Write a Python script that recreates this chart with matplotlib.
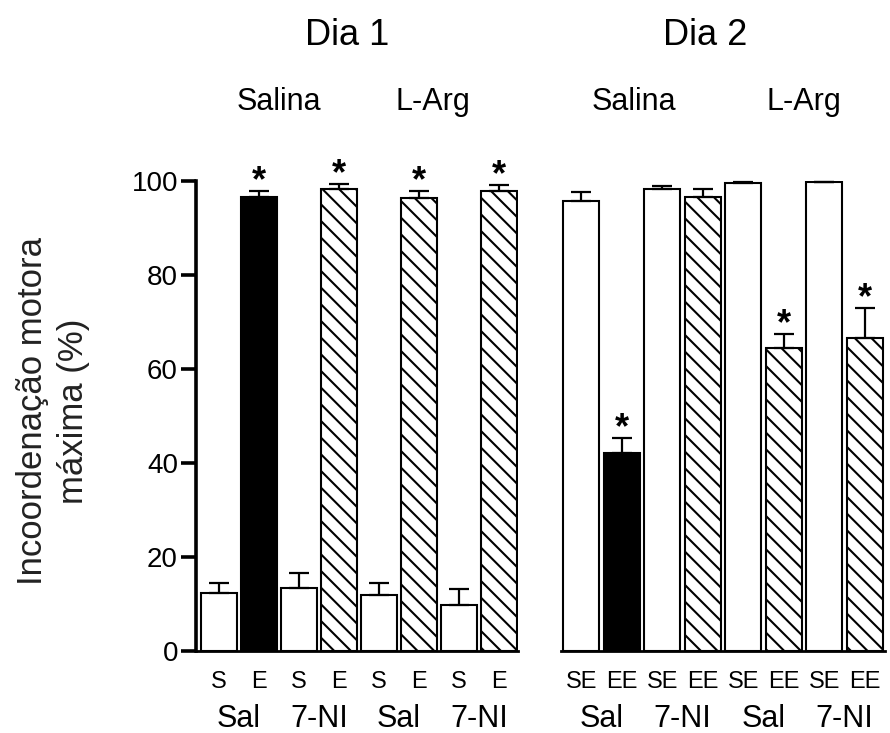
import matplotlib
matplotlib.use("Agg")
import matplotlib.pyplot as plt
import matplotlib.transforms as mtransforms
import numpy as np

plt.rcParams['font.family'] = ['Liberation Sans', 'DejaVu Sans']
plt.rcParams['hatch.linewidth'] = 1.5

# ---- data ----
day1_values = [12.3, 96.6, 13.4, 98.3, 11.9, 96.4, 9.8, 97.9]
day1_err = [2.2, 1.3, 3.2, 1.1, 2.6, 1.5, 3.4, 1.2]
day2_values = [95.7, 42.1, 98.3, 96.6, 99.6, 64.5, 99.8, 66.6]
day2_err = [2.0, 3.2, 0.7, 1.6, 0.2, 2.9, 0.0, 6.4]
bar_styles = ['white', 'black', 'white', 'hatch', 'white', 'hatch', 'white', 'hatch']
day1_stars = [0, 1, 0, 1, 0, 1, 0, 1]
day2_stars = [0, 1, 0, 0, 0, 1, 0, 1]
day1_bar_labels = ['S', 'E', 'S', 'E', 'S', 'E', 'S', 'E']
day2_bar_labels = ['SE', 'EE', 'SE', 'EE', 'SE', 'EE', 'SE', 'EE']
group_labels = ['Sal', '7-NI', 'Sal', '7-NI']
treatments = ['Salina', 'L-Arg']
day_titles = ['Dia 1', 'Dia 2']
y_ticks = [0, 20, 40, 60, 80, 100]

W, H = 890, 733
fig = plt.figure(figsize=(W / 100, H / 100), dpi=100)

def fx(px):
    return px / W

def fy(py):
    return 1 - py / H

ax_bottom = fy(651)
ax_height = fy(181) - fy(651)
ax1 = fig.add_axes([fx(196), ax_bottom, fx(322), ax_height])
ax2 = fig.add_axes([fx(561), ax_bottom, fx(324), ax_height])

def draw_panel(ax, values, errs, stars, bar_labels, xlim, title, title_x, treat_x):
    x = np.arange(len(values))
    for xi, v, style in zip(x, values, bar_styles):
        if style == 'black':
            ax.bar(xi, v, width=0.9, color='black', edgecolor='black', linewidth=1.5, zorder=2)
        elif style == 'hatch':
            ax.bar(xi, v, width=0.9, facecolor='white', edgecolor='black', hatch='\\\\',
                   linewidth=1.5, zorder=2)
        else:
            ax.bar(xi, v, width=0.9, facecolor='white', edgecolor='black', linewidth=1.5, zorder=2)
    lower = np.zeros(len(errs))
    ax.errorbar(x, values, yerr=[lower, errs], fmt='none', ecolor='black',
                elinewidth=1.6, capsize=7, capthick=1.6, zorder=3, clip_on=False)
    for xi, v, e, s in zip(x, values, errs, stars):
        if s:
            ax.annotate('*', xy=(xi, v + e), xytext=(0, 0), textcoords='offset points',
                        ha='center', va='baseline', fontsize=26, fontweight='bold',
                        annotation_clip=False)
    ax.set_xlim(*xlim)
    ax.set_ylim(0, 100)
    ax.set_xticks([])
    for side in ['top', 'right']:
        ax.spines[side].set_visible(False)
    ax.spines['bottom'].set_linewidth(2.0)
    ax.patch.set_visible(False)

    tr = mtransforms.blended_transform_factory(ax.transData, fig.transFigure)
    for xi, lab in zip(x, bar_labels):
        ax.text(xi, fy(688), lab, transform=tr, ha='center', va='baseline', fontsize=17)
    for gi, g in enumerate(group_labels):
        ax.text(2 * gi + 0.5, fy(727), g, transform=tr, ha='center', va='baseline', fontsize=22)
    ax.text(title_x, fy(45), title, transform=tr, ha='center', va='baseline', fontsize=26)
    for tx, t in zip(treat_x, treatments):
        ax.text(tx, fy(110), t, transform=tr, ha='center', va='baseline', fontsize=22)

draw_panel(ax1, day1_values, day1_err, day1_stars, day1_bar_labels,
           (-0.57, 7.48), day_titles[0], 3.2, [1.5, 5.35])
draw_panel(ax2, day2_values, day2_err, day2_stars, day2_bar_labels,
           (-0.5, 7.5), day_titles[1], 3.05, [1.3, 5.5])

ax1.spines['left'].set_linewidth(2.6)
ax1.spines['left'].set_bounds(0, 100)
ax1.set_yticks(y_ticks)
ax1.set_yticklabels([str(t) for t in y_ticks], fontsize=20)
ax1.tick_params(axis='y', length=11, width=2.6, pad=2)

ax2.spines['left'].set_visible(False)
ax2.set_yticks([])

fig.text(fx(53), fy(411), 'Incoordenação motora\nmáxima (%)', rotation=90,
         ha='center', va='center', multialignment='center', fontsize=25, linespacing=1.3,
         color='#222222')

fig.savefig('out.png', dpi=100, facecolor='white')
